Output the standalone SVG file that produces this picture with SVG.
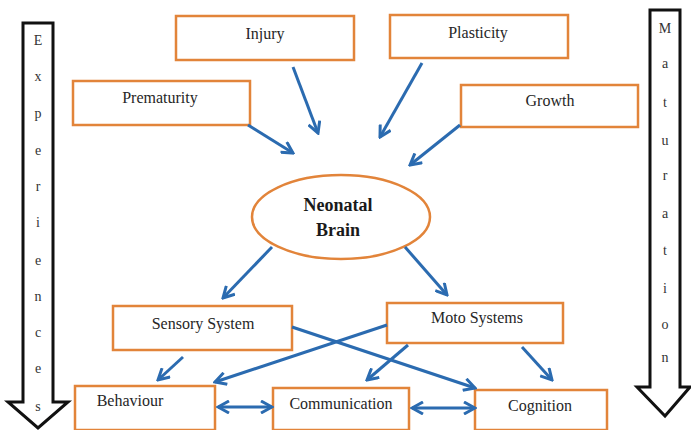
<svg xmlns="http://www.w3.org/2000/svg" width="691" height="430" viewBox="0 0 691 430">
<style>
.box{fill:#fff;stroke:#E2843A;stroke-width:2.5}
.lbl{font-family:'Liberation Serif','Times New Roman','DejaVu Serif',serif;font-size:16px;fill:#262626;text-anchor:middle;dominant-baseline:central}
.big{font-family:'Liberation Serif','Times New Roman','DejaVu Serif',serif;font-size:18px;font-weight:bold;fill:#1a1a1a;text-anchor:middle}
.vl{font-family:'Liberation Serif','Times New Roman','DejaVu Serif',serif;font-size:14px;fill:#333;text-anchor:middle;dominant-baseline:central}
.side{fill:#fff;stroke:#111;stroke-width:3;stroke-linejoin:miter}
.c{stroke:#2B6BB0;stroke-width:3;fill:none;marker-end:url(#ah)}
.cc{stroke:#2B6BB0;stroke-width:3;fill:none;marker-end:url(#ah);marker-start:url(#ahs)}
</style>
<defs>
<marker id="ah" viewBox="0 0 14 14" markerWidth="14" markerHeight="14" refX="12" refY="7" orient="auto" markerUnits="userSpaceOnUse">
<path d="M1,1 L12,7 L1,13" fill="none" stroke="#2B6BB0" stroke-width="3"/>
</marker>
<marker id="ahs" viewBox="0 0 14 14" markerWidth="14" markerHeight="14" refX="2" refY="7" orient="auto" markerUnits="userSpaceOnUse">
<path d="M13,1 L2,7 L13,13" fill="none" stroke="#2B6BB0" stroke-width="3"/>
</marker>
</defs>
<rect width="691" height="430" fill="#fff"/>

<g id="experiences">
<polygon class="side" points="23,23 53,23 53,402 68,402 38,428 8,402 23,402"/>
<text class="vl" x="38" y="40">E</text>
<text class="vl" x="38" y="76">x</text>
<text class="vl" x="38" y="113">p</text>
<text class="vl" x="38" y="150">e</text>
<text class="vl" x="38" y="186">r</text>
<text class="vl" x="38" y="222">i</text>
<text class="vl" x="38" y="260">e</text>
<text class="vl" x="38" y="296">n</text>
<text class="vl" x="38" y="332">c</text>
<text class="vl" x="38" y="368">e</text>
<text class="vl" x="38" y="406">s</text>
</g>

<g id="maturation">
<polygon class="side" points="650,10 680,10 680,387 690,387 665,416 637,387 650,387"/>
<text class="vl" x="665" y="28">M</text>
<text class="vl" x="665" y="63">a</text>
<text class="vl" x="665" y="102">t</text>
<text class="vl" x="665" y="140">u</text>
<text class="vl" x="665" y="175">r</text>
<text class="vl" x="665" y="213">a</text>
<text class="vl" x="665" y="250">t</text>
<text class="vl" x="665" y="288">i</text>
<text class="vl" x="665" y="324">o</text>
<text class="vl" x="665" y="357">n</text>
</g>

<g id="injury"><rect class="box" x="176" y="16" width="178" height="44"/><text class="lbl" x="265" y="33">Injury</text></g>
<g id="plasticity"><rect class="box" x="390" y="15" width="178" height="43"/><text class="lbl" x="478" y="32">Plasticity</text></g>
<g id="prematurity"><rect class="box" x="73" y="81" width="177" height="44"/><text class="lbl" x="160" y="97">Prematurity</text></g>
<g id="growth"><rect class="box" x="461" y="85" width="177" height="42"/><text class="lbl" x="550" y="100">Growth</text></g>

<g id="neonatal-brain">
<ellipse cx="341" cy="217" rx="89" ry="42" fill="#fff" stroke="#E2843A" stroke-width="2.5"/>
<text class="big" x="338" y="211">Neonatal</text>
<text class="big" x="338" y="236">Brain</text>
</g>

<g id="sensory-system"><rect class="box" x="113" y="306" width="179" height="44"/><text class="lbl" x="203" y="323">Sensory System</text></g>
<g id="moto-systems"><rect class="box" x="387" y="303" width="176" height="40"/><text class="lbl" x="477" y="317">Moto Systems</text></g>
<g id="behaviour"><rect class="box" x="75" y="386" width="140" height="44"/><text class="lbl" x="130" y="400">Behaviour</text></g>
<g id="communication"><rect class="box" x="273" y="388" width="136" height="42"/><text class="lbl" x="341" y="403">Communication</text></g>
<g id="cognition"><rect class="box" x="475" y="390" width="132" height="40"/><text class="lbl" x="540" y="405">Cognition</text></g>

<g id="connectors">
<line class="c" x1="293" y1="67" x2="318" y2="133"/>
<line class="c" x1="248" y1="125" x2="293" y2="153"/>
<line class="c" x1="422" y1="63" x2="380" y2="137"/>
<line class="c" x1="460" y1="125" x2="410" y2="165"/>
<line class="c" x1="272" y1="247" x2="223" y2="298"/>
<line class="c" x1="405" y1="247" x2="447" y2="295"/>
<line class="c" x1="183" y1="357" x2="158" y2="380"/>
<line class="c" x1="292" y1="327" x2="475" y2="388"/>
<line class="c" x1="387" y1="325" x2="215" y2="382"/>
<line class="c" x1="408" y1="345" x2="367" y2="380"/>
<line class="c" x1="522" y1="347" x2="552" y2="380"/>
<line class="cc" x1="218" y1="407" x2="272" y2="407"/>
<line class="cc" x1="412" y1="408" x2="475" y2="408"/>
</g>
</svg>
